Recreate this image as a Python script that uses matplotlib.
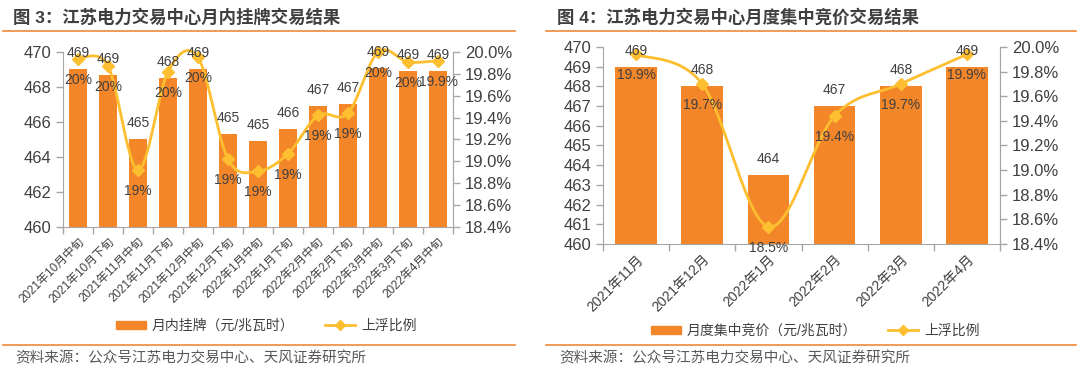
import matplotlib
matplotlib.use('Agg')
import matplotlib.pyplot as plt
import numpy as np
from matplotlib.lines import Line2D
from matplotlib.patches import Patch
from matplotlib.ticker import FuncFormatter, MultipleLocator

plt.rcParams['font.family'] = ['Liberation Sans', 'Noto Sans CJK SC']

# left chart: monthly listing
listing_labels = ['2021年10月中旬', '2021年10月下旬', '2021年11月中旬', '2021年11月下旬',
                  '2021年12月中旬', '2021年12月下旬', '2022年1月中旬', '2022年1月下旬',
                  '2022年2月中旬', '2022年2月下旬', '2022年3月中旬', '2022年3月下旬',
                  '2022年4月中旬']
listing_price = [469.0, 468.7, 465.0, 468.5, 469.0, 465.3, 464.9, 465.6, 466.9, 467.0,
                 469.1, 468.9, 468.9]
listing_float = [19.94, 19.87, 18.92, 19.82, 19.95, 19.02, 18.91, 19.07, 19.42, 19.44,
                 20.0, 19.91, 19.92]
listing_float_text = ['20%', '20%', '19%', '20%', '20%', '19%', '19%', '19%', '19%', '19%',
                      '20%', '20%', '19.9%']

# right chart: monthly centralized bidding
bidding_labels = ['2021年11月', '2021年12月', '2022年1月', '2022年2月', '2022年3月', '2022年4月']
bidding_price = [469.0, 468.0, 463.5, 467.0, 468.0, 469.0]
bidding_float = [19.94, 19.70, 18.54, 19.44, 19.70, 19.94]
bidding_float_text = ['19.9%', '19.7%', '18.5%', '19.4%', '19.7%', '19.9%']

BAR = '#F4862A'
LINE = '#FDBE2F'
RULE = '#F0893A'
TXT = '#404040'
GRAY = '#A6A6A6'
W, H = 1080, 365


def smooth(xs, ys, steps=30):
    # Catmull-Rom style bezier like Excel's smoothed line
    p = np.column_stack([xs, ys]).astype(float)
    p = np.vstack([p[0], p, p[-1]])
    out = []
    for i in range(1, len(p) - 2):
        p0, p1, p2, p3 = p[i - 1], p[i], p[i + 1], p[i + 2]
        c1 = p1 + (p2 - p0) / 6
        c2 = p2 - (p3 - p1) / 6
        t = np.linspace(0, 1, steps)[:, None]
        seg = (1 - t) ** 3 * p1 + 3 * (1 - t) ** 2 * t * c1 + 3 * (1 - t) * t ** 2 * c2 + t ** 3 * p2
        out.append(seg)
    out = np.vstack(out)
    return out[:, 0], out[:, 1]


def panel(fig, rect, labels, price, fl, fl_text, ymin, ymax, ystep, xfs, bar_w):
    ax = fig.add_axes(rect)
    x = np.arange(len(labels))
    ax.bar(x, price, width=bar_w, color=BAR, zorder=2)
    ax.set_ylim(ymin, ymax)
    ax.set_xlim(-0.5, len(labels) - 0.5)
    ax.yaxis.set_major_locator(MultipleLocator(ystep))
    ax.set_xticks(x)
    ax.set_xticklabels(labels, rotation=45, ha='right', va='top', rotation_mode='anchor',
                       fontsize=xfs, color=TXT)
    ax.set_xticks(np.arange(len(labels) + 1) - 0.5, minor=True)
    ax.tick_params(axis='x', which='major', length=0, pad=6)
    ax.tick_params(axis='x', which='minor', length=5, color=GRAY, width=1)
    ax.tick_params(axis='y', labelsize=12, labelcolor=TXT, color=GRAY, length=5, width=1)
    ax.spines['top'].set_visible(False)
    for s in ['left', 'right', 'bottom']:
        ax.spines[s].set_color(GRAY)

    ax2 = ax.twinx()
    ax2.set_ylim(18.4, 20.0)
    ax2.yaxis.set_major_locator(MultipleLocator(0.2))
    ax2.yaxis.set_major_formatter(FuncFormatter(lambda v, _: f'{v:.1f}%'))
    ax2.tick_params(axis='y', labelsize=12, labelcolor=TXT, color=GRAY, length=5, width=1)
    for s in ['top', 'left', 'bottom']:
        ax2.spines[s].set_visible(False)
    ax2.spines['right'].set_color(GRAY)
    sx, sy = smooth(x, fl)
    ax2.plot(sx, sy, color=LINE, lw=2, clip_on=False, zorder=3)
    ax2.plot(x, fl, ls='none', marker='D', ms=6, color=LINE, clip_on=False, zorder=4)
    # bar value labels drawn on top of the line
    for xi, v in zip(x, price):
        ax2.annotate(f'{v:.0f}', (xi, v), xycoords=ax.transData, xytext=(0, 16),
                     textcoords='offset pixels', ha='center', va='center', fontsize=10,
                     color=TXT, zorder=5, annotation_clip=False)
    for xi, v, t in zip(x, fl, fl_text):
        ax2.annotate(t, (xi, v), xytext=(0, -21), textcoords='offset pixels',
                     ha='center', va='center', fontsize=10, color=TXT, zorder=5,
                     annotation_clip=False)
    return ax


def box(l, t, r, b):
    return [l / W, 1 - b / H, (r - l) / W, (b - t) / H]


fig = plt.figure(figsize=(10.8, 3.65), dpi=100)

panel(fig, box(63, 52, 453, 227), listing_labels, listing_price, listing_float,
      listing_float_text, 460, 470, 2, 8.5, 0.6)
panel(fig, box(603, 47, 1000, 244), bidding_labels, bidding_price, bidding_float,
      bidding_float_text, 460, 470, 1, 10, 0.63)

for x0, x1, tx, title in [(3, 515, 13, '图 3：江苏电力交易中心月内挂牌交易结果'),
                          (546, 1076, 557, '图 4：江苏电力交易中心月度集中竞价交易结果')]:
    for y in (31, 345):
        fig.add_artist(Line2D([x0 / W, x1 / W], [1 - y / H] * 2, color=RULE, lw=1.2))
    fig.text(tx / W, 1 - 17 / H, title, fontsize=12.5, fontweight='bold', color='#3F3F3F',
             ha='left', va='center')
    fig.text((tx + 2) / W, 1 - 358 / H, '资料来源：公众号江苏电力交易中心、天风证券研究所',
             fontsize=10.5, color='#595959', ha='left', va='center')

for cx, cy, name in [(266, 326, '月内挂牌（元/兆瓦时）'), (815, 331, '月度集中竞价（元/兆瓦时）')]:
    handles = [Patch(color=BAR, label=name),
               Line2D([], [], color=LINE, lw=2, marker='D', ms=5, label='上浮比例')]
    leg = fig.legend(handles=handles, loc='center', bbox_to_anchor=(cx / W, 1 - cy / H),
                     ncol=2, frameon=False, fontsize=10, handlelength=2.2, handleheight=0.55,
                     columnspacing=2.2, handletextpad=0.4)
    for t in leg.get_texts():
        t.set_color(TXT)

fig.savefig('out.png', dpi=100)
